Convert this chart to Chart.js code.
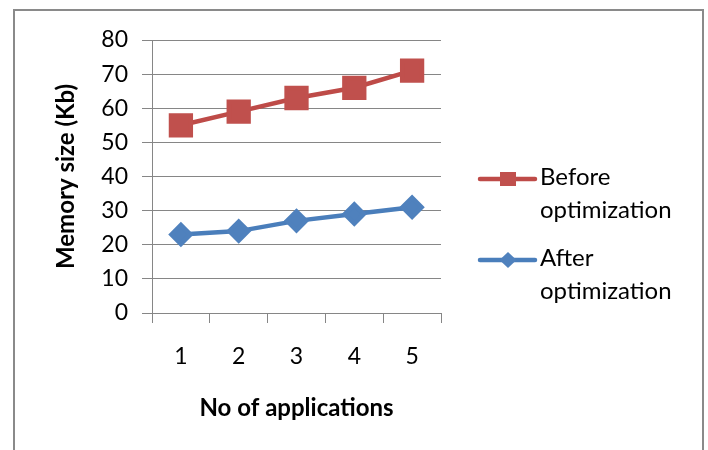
<!DOCTYPE html>
<html lang="en">
<head>
  <meta charset="UTF-8">
  <title>Memory size chart</title>
  <script src="https://cdn.jsdelivr.net/npm/chart.js"></script>
  <style>
    body {
      margin: 0;
      background: #ffffff;
    }
    .frame {
      position: absolute;
      left: 13px;
      top: 9px;
      width: 691px;
      height: 470px;
      box-sizing: border-box;
      border: 2px solid #8a8a8a;
      border-bottom: none;
    }
    #memChart {
      position: absolute;
      left: 0;
      top: 0;
    }
  </style>
</head>
<body>
  <div class="frame"></div>
  <canvas id="memChart" width="708" height="450"></canvas>

  <script>
    // values
    const apps = ['1', '2', '3', '4', '5'];
    const beforeOpt = [55, 59, 63, 66, 71];
    const afterOpt = [23, 24, 27, 29, 31];
    const seriesNames = ['Before optimization', 'After optimization'];
    const yTicks = [0, 10, 20, 30, 40, 50, 60, 70, 80];

    const FONT = 'Lato, "Open Sans", sans-serif';
    const gridGray = '#868686';

    // legend with the text broken on two lines, like the Excel one
    const sideLegend = {
      id: 'sideLegend',
      afterDraw(chart) {
        const ctx = chart.ctx;
        const x0 = chart.chartArea.right + 39;
        let y = 177;
        ctx.save();
        chart.data.datasets.forEach((ds, i) => {
          const lines = ds.label.split(' ');
          // line sample
          ctx.strokeStyle = ds.borderColor;
          ctx.lineWidth = 4.5;
          ctx.lineCap = 'round';
          ctx.beginPath();
          ctx.moveTo(x0, y + 2);
          ctx.lineTo(x0 + 55, y + 2);
          ctx.stroke();
          // marker
          const mx = x0 + 28, my = y + 2;
          ctx.fillStyle = ds.pointBackgroundColor;
          ctx.beginPath();
          if (ds.pointStyle === 'rect') {
            ctx.rect(mx - 8, my - 7, 16, 14);
          } else {
            ctx.moveTo(mx, my - 8);
            ctx.lineTo(mx + 8.5, my);
            ctx.lineTo(mx, my + 8);
            ctx.lineTo(mx - 8.5, my);
            ctx.closePath();
          }
          ctx.fill();
          // text
          ctx.fillStyle = '#000';
          ctx.font = '24px ' + FONT;
          ctx.textBaseline = 'middle';
          ctx.textAlign = 'left';
          lines.forEach((t, k) => ctx.fillText(t, x0 + 60, y + k * 33));
          y += 81;
        });
        ctx.restore();
      }
    };

    new Chart(document.getElementById('memChart'), {
      type: 'line',
      data: {
        labels: apps,
        datasets: [
          {
            label: seriesNames[0],
            data: beforeOpt,
            borderColor: '#BE4B48',
            backgroundColor: '#C0504D',
            pointBackgroundColor: '#C0504D',
            pointBorderColor: '#C0504D',
            pointStyle: 'rect',
            pointRadius: 14,
            borderWidth: 4.5,
            tension: 0
          },
          {
            label: seriesNames[1],
            data: afterOpt,
            borderColor: '#4A7EBB',
            backgroundColor: '#4F81BD',
            pointBackgroundColor: '#4F81BD',
            pointBorderColor: '#4F81BD',
            pointStyle: 'rectRot',
            pointRadius: 9.5,
            borderWidth: 4.5,
            tension: 0
          }
        ]
      },
      options: {
        responsive: false,
        animation: false,
        layout: { padding: { left: 50, right: 267, top: 40, bottom: 20 } },
        plugins: {
          legend: { display: false },
          tooltip: { enabled: false }
        },
        scales: {
          x: {
            offset: true,
            afterFit: s => { s.height = 117; },
            grid: {
              offset: true,
              drawOnChartArea: false,
              color: gridGray,
              tickLength: 10
            },
            border: { color: gridGray },
            ticks: {
              color: '#000',
              padding: 20,
              font: { family: FONT, size: 23 }
            },
            title: {
              display: true,
              text: 'No of applications',
              color: '#000',
              padding: { top: 0, bottom: 7 },
              font: { family: FONT, size: 24, weight: 'bold' }
            }
          },
          y: {
            min: 0,
            max: 80,
            afterFit: s => { s.width = 102; },
            afterBuildTicks: s => { s.ticks = yTicks.map(v => ({ value: v })); },
            grid: {
              color: gridGray,
              tickLength: 10
            },
            border: { color: gridGray },
            ticks: {
              color: '#000',
              padding: 14,
              font: { family: FONT, size: 23 }
            },
            title: {
              display: true,
              text: 'Memory size (Kb)',
              color: '#000',
              padding: { top: 2, bottom: 0 },
              font: { family: FONT, size: 24, weight: 'bold' }
            }
          }
        }
      },
      plugins: [sideLegend]
    });
  </script>
</body>
</html>
